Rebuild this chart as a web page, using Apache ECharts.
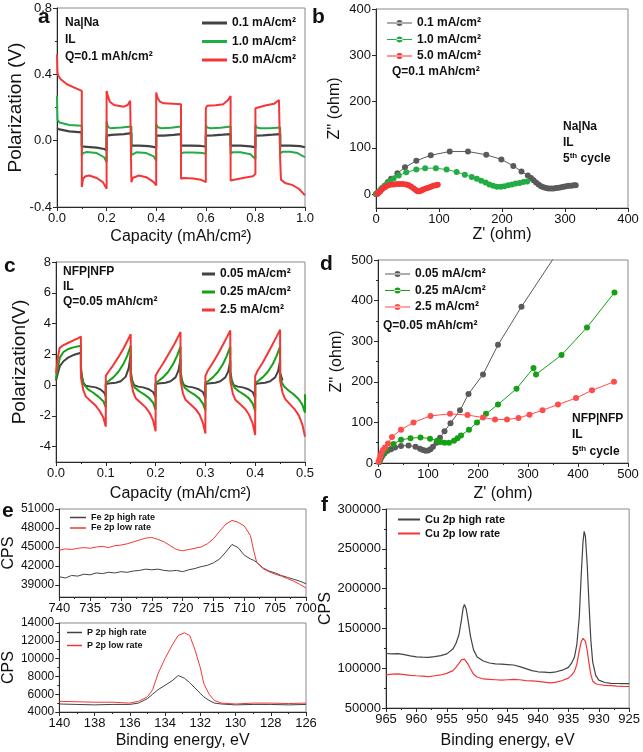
<!DOCTYPE html>
<html><head><meta charset="utf-8">
<script src="https://cdn.jsdelivr.net/npm/echarts@6/dist/echarts.min.js"></script>
<style>html,body{margin:0;padding:0;background:#fff}#c{width:643px;height:752px}</style>
</head><body><div id="c"></div>
<script>
// ---------- Panel a: Na|Na polarization ----------
const aBlack = [[0,0.075],[0.01,0.068],[0.05,0.056],[0.1,0.05],[0.1,-0.035],[0.12,-0.037],[0.16,-0.042],[0.19,-0.05],[0.2,-0.06],
 [0.2,0.03],[0.22,0.035],[0.27,0.04],[0.3,0.045],[0.3,-0.03],[0.33,-0.03],[0.37,-0.033],[0.4,-0.04],
 [0.4,0.03],[0.43,0.03],[0.47,0.035],[0.5,0.04],[0.5,-0.03],[0.54,-0.03],[0.58,-0.032],[0.6,-0.035],
 [0.6,0.03],[0.63,0.032],[0.67,0.036],[0.7,0.04],[0.7,-0.03],[0.74,-0.03],[0.78,-0.034],[0.8,-0.04],
 [0.8,0.03],[0.83,0.032],[0.87,0.036],[0.9,0.04],[0.9,-0.03],[0.94,-0.03],[0.98,-0.033],[1.0,-0.04]];
const aGreen = [[0,0.27],[0.002,0.125],[0.01,0.11],[0.05,0.095],[0.1,0.09],[0.1,-0.09],[0.105,-0.075],[0.12,-0.068],[0.16,-0.075],[0.19,-0.1],[0.2,-0.13],
 [0.2,0.115],[0.205,0.085],[0.215,0.075],[0.26,0.08],[0.3,0.085],[0.3,-0.087],[0.305,-0.075],[0.32,-0.07],[0.36,-0.075],[0.39,-0.095],[0.4,-0.12],
 [0.4,0.1],[0.405,0.082],[0.42,0.075],[0.46,0.078],[0.5,0.085],[0.5,-0.077],[0.51,-0.072],[0.55,-0.072],[0.59,-0.075],[0.6,-0.08],
 [0.6,0.095],[0.605,0.08],[0.62,0.075],[0.66,0.078],[0.7,0.085],[0.7,-0.077],[0.71,-0.07],[0.74,-0.07],[0.78,-0.082],[0.8,-0.11],
 [0.8,0.095],[0.805,0.08],[0.82,0.075],[0.86,0.075],[0.9,0.08],[0.9,-0.077],[0.91,-0.067],[0.94,-0.067],[0.97,-0.075],[1.0,-0.1]];
const aRed = [[0,0.52],[0.002,0.41],[0.006,0.39],[0.015,0.37],[0.04,0.34],[0.07,0.32],[0.1,0.30],
 [0.1,-0.28],[0.105,-0.23],[0.115,-0.215],[0.13,-0.21],[0.16,-0.225],[0.185,-0.25],[0.2,-0.29],
 [0.2,0.30],[0.205,0.27],[0.213,0.235],[0.23,0.215],[0.27,0.205],[0.285,0.215],[0.295,0.24],[0.3,0.25],
 [0.3,-0.25],[0.305,-0.225],[0.33,-0.21],[0.36,-0.22],[0.39,-0.25],[0.4,-0.27],
 [0.4,0.29],[0.405,0.26],[0.415,0.235],[0.43,0.225],[0.47,0.222],[0.5,0.22],
 [0.5,-0.23],[0.51,-0.225],[0.55,-0.228],[0.58,-0.235],[0.6,-0.25],
 [0.6,0.195],[0.605,0.21],[0.64,0.213],[0.67,0.22],[0.69,0.245],[0.7,0.27],
 [0.7,-0.24],[0.705,-0.228],[0.75,-0.225],[0.79,-0.215],[0.8,-0.2],
 [0.8,0.195],[0.805,0.205],[0.84,0.212],[0.875,0.222],[0.895,0.245],[0.9,0.255],
 [0.9,-0.12],[0.903,-0.235],[0.92,-0.255],[0.95,-0.268],[0.975,-0.29],[1.0,-0.33]];

// ---------- Panel b: Na|Na Nyquist ----------
const bBlack = [[0,0],[2,2],[4,5],[7,9],[10,13],[14,18],[19,26],[24,33],[34,45],[46,58],[64,72],[87,84],[117,92],[146,92],[175,85],[199,75],[218,61],[231,49],[241,40],[246,35],[250,30],[254,25],[258,21],[262,17],[266,15],[270,13],[274,12],[278,12],[282,12],[286,13],[290,14],[294,15],[298,16],[302,17],[306,18],[310,18],[314,19],[317,19]];
const bGreen = [[0,0],[3,3],[6,7],[9,12],[13,17],[17,22],[22,28],[28,34],[36,40],[48,47],[64,53],[78,56],[95,56],[112,53],[128,48],[141,42],[152,37],[160,33],[167,29],[174,25],[180,21],[186,18],[192,16],[198,16],[204,17],[210,19],[216,21],[222,23],[228,24],[234,26],[240,27]];
const bRed = [[2,0],[4,3],[7,7],[10,11],[14,15],[18,18],[23,20],[28,21],[33,22],[38,22],[43,22],[48,21],[52,19],[56,16],[60,12],[63,9],[66,6],[69,6],[72,8],[75,10],[79,12],[83,14],[87,16],[91,18],[95,19],[98,20]];

// ---------- Panel c: NFP|NFP polarization ----------
const cBlack = [[0,0.3],[0.004,0.8],[0.008,1.25],[0.015,1.55],[0.025,1.8],[0.035,1.95],[0.05,2.1],
 [0.05,1.2],[0.052,0.6],[0.055,0.15],[0.06,-0.05],[0.07,-0.1],[0.08,-0.15],[0.09,-0.3],[0.097,-0.5],[0.1,-0.75],
 [0.1,0.05],[0.105,0.1],[0.12,0.15],[0.13,0.25],[0.14,0.55],[0.146,1.1],[0.15,2.0],
 [0.15,0.9],[0.153,0.3],[0.157,0.0],[0.165,-0.1],[0.175,-0.15],[0.185,-0.25],[0.195,-0.45],[0.2,-0.8],
 [0.2,0.05],[0.205,0.1],[0.22,0.15],[0.23,0.25],[0.24,0.5],[0.246,0.95],[0.25,1.7],
 [0.25,0.9],[0.253,0.3],[0.257,0.0],[0.265,-0.1],[0.275,-0.15],[0.285,-0.25],[0.295,-0.45],[0.3,-0.85],
 [0.3,0.05],[0.305,0.1],[0.32,0.15],[0.33,0.25],[0.34,0.5],[0.346,0.9],[0.35,1.6],
 [0.35,0.9],[0.353,0.3],[0.357,0.0],[0.365,-0.1],[0.375,-0.15],[0.385,-0.25],[0.395,-0.45],[0.4,-0.85],
 [0.4,0.05],[0.405,0.1],[0.42,0.15],[0.43,0.25],[0.44,0.5],[0.446,0.9],[0.45,1.6],[0.45,0.8],[0.455,0.3]];
const cGreen = [[0,0.45],[0.004,1.2],[0.008,1.8],[0.015,2.15],[0.025,2.35],[0.035,2.45],[0.05,2.55],
 [0.05,0.9],[0.053,0.3],[0.057,0.0],[0.065,-0.3],[0.075,-0.5],[0.085,-0.75],[0.095,-1.05],[0.1,-1.45],
 [0.1,0.15],[0.105,0.25],[0.115,0.5],[0.125,0.85],[0.135,1.35],[0.143,1.9],[0.15,2.55],
 [0.15,0.6],[0.153,0.2],[0.158,-0.15],[0.167,-0.4],[0.177,-0.6],[0.187,-0.85],[0.195,-1.15],[0.2,-1.6],
 [0.2,0.15],[0.205,0.25],[0.215,0.5],[0.225,0.85],[0.235,1.35],[0.243,1.9],[0.25,2.5],
 [0.25,0.6],[0.253,0.2],[0.258,-0.15],[0.267,-0.4],[0.277,-0.6],[0.287,-0.85],[0.295,-1.2],[0.3,-1.65],
 [0.3,0.15],[0.305,0.25],[0.315,0.5],[0.325,0.85],[0.335,1.35],[0.343,1.9],[0.35,2.5],
 [0.35,0.6],[0.353,0.2],[0.358,-0.15],[0.367,-0.4],[0.377,-0.6],[0.387,-0.85],[0.395,-1.2],[0.4,-1.7],
 [0.4,0.15],[0.405,0.25],[0.415,0.5],[0.425,0.85],[0.435,1.35],[0.443,1.9],[0.45,2.5],
 [0.45,0.6],[0.453,0.2],[0.458,-0.1],[0.467,-0.35],[0.477,-0.6],[0.487,-0.9],[0.495,-1.3],[0.5,-1.8],[0.5,-0.6]];
const cRed = [[0,0.75],[0.003,1.6],[0.007,2.4],[0.015,2.6],[0.025,2.75],[0.035,2.9],[0.045,3.05],[0.05,3.15],
 [0.05,0.5],[0.055,-0.35],[0.06,-0.75],[0.07,-1.05],[0.08,-1.35],[0.088,-1.7],[0.095,-2.1],[0.1,-2.7],
 [0.1,0.6],[0.105,0.85],[0.115,1.3],[0.125,1.8],[0.135,2.35],[0.143,2.85],[0.15,3.3],
 [0.15,0.4],[0.155,-0.45],[0.16,-0.85],[0.17,-1.15],[0.18,-1.45],[0.188,-1.8],[0.195,-2.3],[0.2,-3.0],
 [0.2,0.6],[0.205,0.9],[0.215,1.4],[0.225,1.95],[0.235,2.5],[0.243,3.0],[0.25,3.45],
 [0.25,0.3],[0.255,-0.55],[0.26,-0.95],[0.27,-1.25],[0.28,-1.55],[0.288,-1.9],[0.295,-2.45],[0.3,-3.15],
 [0.3,0.6],[0.305,0.95],[0.315,1.45],[0.325,2.0],[0.335,2.6],[0.343,3.1],[0.35,3.55],
 [0.35,0.3],[0.355,-0.55],[0.36,-0.95],[0.37,-1.25],[0.38,-1.55],[0.388,-1.95],[0.395,-2.5],[0.4,-3.25],
 [0.4,0.6],[0.405,0.95],[0.415,1.45],[0.425,2.05],[0.435,2.65],[0.443,3.15],[0.45,3.6],
 [0.45,0.3],[0.455,-0.5],[0.46,-0.9],[0.47,-1.25],[0.48,-1.6],[0.488,-2.0],[0.495,-2.6],[0.5,-3.35]];

// ---------- Panel d: NFP|NFP Nyquist ----------
const dBlack = [[2,2],[4,7],[6,12],[9,18],[13,24],[19,30],[26,34],[34,38],[46,42],[61,43],[75,40],[84,35],[90,32],[95,30],[100,31],[105,34],[110,40],[117,50],[124,62],[133,78],[145,98],[164,130],[181,170],[210,218],[240,291],[287,385],[365,530]];
const dGreen = [[2,3],[4,9],[7,16],[11,24],[17,33],[31,47],[46,57],[65,61],[85,63],[104,60],[118,55],[124,52],[133,50],[142,50],[152,55],[159,61],[166,68],[182,82],[198,100],[216,121],[240,144],[277,183],[311,234],[316,218],[367,266],[418,334],[473,420]];
const dRed = [[1,3],[3,10],[5,18],[7,25],[10,32],[14,38],[20,48],[28,64],[46,82],[71,100],[105,116],[144,121],[179,118],[210,112],[234,107],[258,107],[281,111],[303,119],[329,130],[360,144],[396,160],[428,179],[472,200]];

// ---------- Panel e: Fe 2p and P 2p XPS ----------
const feEnergy = [740,739,738,737,736,735,734,733,732,731,730,729,728,727,726,725,724,723,722,721,720,719,718,717,716,715,714,713,712,711,710,709,708.5,708,707,706,705,704,703,702,701,700];
const feHigh = [40300,40100,40500,40400,40700,40600,40900,40800,41000,40900,41100,41000,41200,41300,41500,41400,41500,41300,41200,41300,41100,41400,41600,41900,42100,42500,43100,44200,45400,44900,43700,43100,42900,42600,41700,41200,40900,40500,40200,39900,39600,39200];
const feLow = [44500,44700,44600,44800,44900,44800,45000,45100,44900,45200,45300,45500,45800,46100,46400,46500,46200,45800,45200,44600,44400,44600,44800,45000,45500,46300,47500,48600,49200,48900,48300,46800,44500,42600,41600,41100,40700,40400,40000,39600,39100,38500];
const pEnergy = [140,139,138,137,136,135.5,135,134.7,134.4,134,133.6,133.25,132.9,132.6,132.3,132,131.8,131.5,131.2,130.8,130,129,128,127,126];
const pHigh = [4900,4850,4800,4850,4850,5000,5500,6000,6500,7000,7500,8100,7800,7300,6700,6100,5700,5300,5000,4900,4800,4850,4850,4800,4850];
const pLow = [5200,5150,5100,5100,5000,5200,5700,6500,8300,10000,11500,12600,12900,12600,11000,9000,7200,6000,5300,5000,4900,5000,5000,4950,5000];

// ---------- Panel f: Cu 2p XPS ----------
const cuEnergy = [965,964,963,962,961,960,959,958,957,956,955,954,953.5,953,952.6,952.3,952.1,951.8,951.5,951.1,950.6,950,949,948,947,946,945,944,943,942,941,940,939,938,937,936,935,934.5,934,933.6,933.2,932.9,932.6,932.4,932.2,931.9,931.6,931.3,931,930.5,930,929,928,927,926,925];
const cuHigh = [118500,118000,118200,117000,115500,114200,113800,113500,114500,115800,118000,124000,131000,142000,160000,176000,180000,174000,160000,140000,123000,114000,109000,106500,105500,105000,104500,104000,102000,99500,97000,95500,95000,94500,95500,97500,101000,106000,114000,130000,165000,215000,258000,272000,266000,230000,180000,135000,108000,91000,85000,82000,81000,80800,80500,80500];
const cuLow = [91500,92500,92800,92000,91000,90500,90000,89500,90500,91500,93500,97000,101000,106000,110500,112000,111500,109000,105000,99000,92500,89000,86500,86000,85500,85000,85500,86000,85500,84500,84000,83500,82500,81500,82500,84500,87500,91000,96000,105000,122000,133000,137500,138000,134000,122000,106000,92000,84000,80500,79500,78500,78000,77500,77200,77000];

// ---------- labels ----------
const legA = ['0.1 mA/cm²','1.0 mA/cm²','5.0 mA/cm²'];
const legC = ['0.05 mA/cm²','0.25 mA/cm²','2.5 mA/cm²'];
const legE1 = ['Fe 2p high rate','Fe 2p low rate'];
const legE2 = ['P 2p high rate','P 2p low rate'];
const legF = ['Cu 2p high rate','Cu 2p low rate'];

const FONT = '"Liberation Sans", Arial, sans-serif';
const BLK = '#434343', GRN = '#22ad44', RED = '#f43636';
const GRN2 = '#15a015', RED2 = '#ff4d4d', BLK2 = '#5a5a5a';

function zip(xs, ys){ return xs.map((x,i)=>[x,ys[i]]); }

const grids = [
 {left:57, top:8, width:248, height:199},
 {left:376, top:9, width:252, height:199},
 {left:56, top:262, width:249, height:200},
 {left:378, top:260, width:250, height:203},
 {left:59, top:509, width:247, height:88},
 {left:59, top:623, width:247, height:89},
 {left:386, top:509, width:245, height:199}
].map(g => Object.assign({show:true, borderColor:'#8a8a8a', borderWidth:1, backgroundColor:'transparent'}, g));

function axis(o){
  const a = {
    type:'value', gridIndex:o.g, min:o.min, max:o.max, inverse:!!o.inverse,
    axisLine:{show:true, onZero:false, lineStyle:{color:'#2a2a2a', width:1}},
    axisTick:{show:true, inside:false, length:4, lineStyle:{color:'#2a2a2a'}},
    minorTick:{show:o.minor!==false, splitNumber:2, length:2, lineStyle:{color:'#2a2a2a'}},
    splitLine:{show:false},
    axisLabel:{show:o.labels!==false, color:'#111', fontSize:o.fs||13, fontFamily:FONT, margin:o.margin||5, formatter:o.fmt||(v=>String(v))},
    name:o.name||'', nameLocation:'middle', nameGap:o.gap||25,
    nameTextStyle:{color:'#111', fontSize:o.nfs||16, fontFamily:FONT}
  };
  if (o.interval!==undefined) a.interval = o.interval;
  if (o.custom){ a.axisLabel.customValues = o.custom; a.axisTick.customValues = o.custom; }
  return a;
}

const xAxes = [
 axis({g:0,min:0,max:1,interval:0.2,fmt:v=>v.toFixed(1),name:'Capacity (mAh/cm²)',gap:22}),
 axis({g:1,min:0,max:400,interval:100,name:"Z' (ohm)",gap:17}),
 axis({g:2,min:0,max:0.5,interval:0.1,fmt:v=>v.toFixed(1),name:'Capacity (mAh/cm²)',gap:24}),
 axis({g:3,min:0,max:500,interval:100,name:"Z' (ohm)",gap:23}),
 axis({g:4,min:700,max:740,interval:5,inverse:true,fs:13}),
 axis({g:5,min:126,max:140,interval:2,inverse:true,fs:13,name:'Binding energy, eV',gap:21}),
 axis({g:6,min:925,max:965,interval:5,inverse:true,name:'Binding energy, eV',gap:25})
];
const yAxes = [
 axis({g:0,min:-0.4,max:0.8,interval:0.4,fmt:v=>v.toFixed(1),name:'Polarization (V)',gap:32,nfs:19}),
 axis({g:1,min:-30,max:400,custom:[0,100,200,300,400],minor:false,name:"Z'' (ohm)",gap:33}),
 axis({g:2,min:-5,max:8,custom:[-4,-2,0,2,4,6,8],minor:false,name:'Polarization(V)',gap:27,nfs:19}),
 axis({g:3,min:0,max:500,interval:100,name:"Z'' (ohm)",gap:33}),
 axis({g:4,min:37100,max:51000,custom:[39000,42000,45000,48000,51000],minor:false,fs:12,name:'CPS',gap:37}),
 axis({g:5,min:4000,max:14000,interval:2000,fs:12,name:'CPS',gap:37}),
 axis({g:6,min:50000,max:300000,interval:50000,name:'CPS',gap:50})
];

function line(name, g, data, color, w){
  return {type:'line', name, xAxisIndex:g, yAxisIndex:g, data, showSymbol:false, symbol:'none',
    lineStyle:{color, width:w}, itemStyle:{color}, animation:false, clip:true};
}
function dots(name, g, data, color, size){
  return {type:'line', name, xAxisIndex:g, yAxisIndex:g, data, symbol:'circle', symbolSize:size, showSymbol:true,
    lineStyle:{color, width:1}, itemStyle:{color}, animation:false, clip:true};
}

const series = [
 line('a#'+legA[0],0,aBlack,BLK,2.2), line('a#'+legA[1],0,aGreen,GRN,2), line('a#'+legA[2],0,aRed,RED,2),
 dots('b#'+legA[0],1,bBlack,BLK2,6), dots('b#'+legA[1],1,bGreen,GRN,6), dots('b#'+legA[2],1,bRed,RED,6),
 line('c#'+legC[0],2,cBlack,BLK,2), line('c#'+legC[1],2,cGreen,GRN2,2), line('c#'+legC[2],2,cRed,RED,2),
 dots('d#'+legC[0],3,dBlack,BLK2,6), dots('d#'+legC[1],3,dGreen,GRN2,6), dots('d#'+legC[2],3,dRed,RED2,6),
 line('e#'+legE1[0],4,zip(feEnergy,feHigh),BLK,1), line('e#'+legE1[1],4,zip(feEnergy,feLow),RED,1),
 line('g#'+legE2[0],5,zip(pEnergy,pHigh),BLK,1), line('g#'+legE2[1],5,zip(pEnergy,pLow),RED,1),
 line('f#'+legF[0],6,zip(cuEnergy,cuHigh),BLK,1.2), line('f#'+legF[1],6,zip(cuEnergy,cuLow),RED,1.2)
];

// legend icons: plain bar for line series, bar + dot for marker series
const ICON_LINE = 'rect';
const ICON_DOT = 'path://M0,2.4h25v1.2h-25z M9.5,3a3,3 0 1,0 6,0a3,3 0 1,0 -6,0z';

function legend(prefix, names, left, top, iw, ih, gap, fs, icon){
  return {show:true, orient:'vertical', left, top, padding:0, itemWidth:iw, itemHeight:ih, itemGap:gap,
    selectedMode:false, data:names.map(n=>({name:prefix+'#'+n, icon})), formatter:n=>n.split('#')[1],
    textStyle:{fontSize:fs, fontWeight:'bold', color:'#111', fontFamily:FONT}};
}
const legends = [
 legend('a',legA,202,17,25,3,6.5,12,ICON_LINE),
 legend('b',legA,387,17,25,6,4.5,12,ICON_DOT),
 legend('c',legC,202,268,13,3,6,12,ICON_LINE),
 legend('d',legC,385,268,25,6,4.5,12,ICON_DOT),
 legend('e',legE1,70,513,16,1.5,1.5,9,ICON_LINE),
 legend('g',legE2,67,628,15,1.5,4,9,ICON_LINE),
 legend('f',legF,398,514,22,2,3,11,ICON_LINE)
];

function txt(x, y, text, size, weight, rich){
  const s = {x, y, text, fill:'#111', font:(weight||'bold')+' '+size+'px '+FONT, verticalAlign:'middle', align:'left'};
  if (rich) s.rich = rich;
  return {type:'text', silent:true, z:100, style:s};
}
const sup = {sup:{fontSize:8, fontWeight:'bold', verticalAlign:'top', padding:[0,0,6,0], fontFamily:FONT, fill:'#111'}};
const graphics = [
 txt(38,17,'a',21,'bold'), txt(312,17,'b',21,'bold'), txt(4,266,'c',21,'bold'),
 txt(320,264,'d',21,'bold'), txt(2,511,'e',21,'bold'), txt(321,505,'f',21,'bold'),
 txt(65,23,'Na|Na',12), txt(65,40,'IL',12), txt(65,57,'Q=0.1 mAh/cm²',12),
 txt(392,72,'Q=0.1 mAh/cm²',12),
 txt(563,127,'Na|Na',12), txt(563,143,'IL',12), txt(563,159,'5{sup|th} cycle',12,'bold',sup),
 txt(63,272,'NFP|NFP',12), txt(63,287,'IL',12), txt(63,302,'Q=0.05 mAh/cm²',12),
 txt(383,326,'Q=0.05 mAh/cm²',12),
 txt(572,419,'NFP|NFP',12), txt(572,435,'IL',12), txt(572,452,'5{sup|th} cycle',12,'bold',sup)
];

const chart = echarts.init(document.getElementById('c'), null, {renderer:'canvas', width:643, height:752});
chart.setOption({
  animation:false, backgroundColor:'#fff',
  grid:grids, xAxis:xAxes, yAxis:yAxes, series, legend:legends, graphic:graphics
});
</script></body></html>
